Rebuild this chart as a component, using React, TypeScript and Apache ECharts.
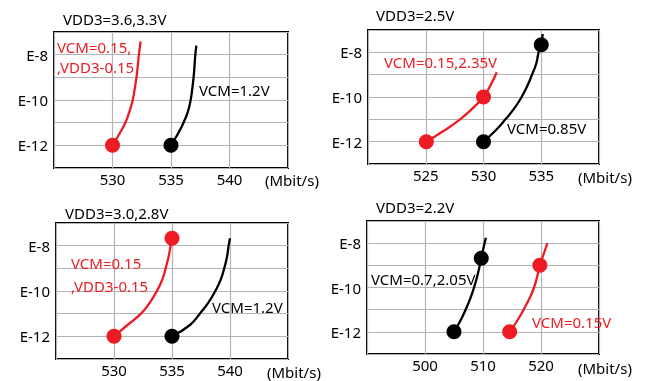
import React, { useEffect, useRef } from "react";
import * as echarts from "echarts";

// ---- data (x: Mbit/s, y: log10 BER exponent) ----
const p1Red: number[][] = [[530, -12], [530.58, -11.5], [531.1, -11], [531.45, -10.5], [531.73, -10], [531.9, -9.5], [532.05, -9], [532.16, -8.5], [532.26, -8], [532.4, -7.42]];
const p1RedMarks: number[][] = [[530, -12]];
const p1Black: number[][] = [[535, -12], [535.58, -11.5], [536.07, -11], [536.45, -10.5], [536.68, -10], [536.82, -9.5], [536.93, -9], [537.01, -8.5], [537.08, -8], [537.17, -7.6]];
const p1BlackMarks: number[][] = [[535, -12]];

const p2Red: number[][] = [[525.05, -12], [526.6, -11.5], [527.97, -11], [529.07, -10.5], [530, -10], [530.58, -9.5], [531.15, -8.89]];
const p2RedMarks: number[][] = [[525.05, -12], [530, -10]];
const p2Black: number[][] = [[530, -12], [531.04, -11.5], [531.9, -11], [532.68, -10.5], [533.3, -10], [533.8, -9.5], [534.2, -9], [534.57, -8.5], [534.77, -8], [535, -7.66], [535.12, -7.18]];
const p2BlackMarks: number[][] = [[530, -12], [535, -7.66]];

const p3Red: number[][] = [[530, -12], [531.16, -11.5], [532.33, -11], [533.1, -10.5], [533.7, -10], [534.16, -9.5], [534.45, -9], [534.7, -8.5], [534.88, -8], [535, -7.67]];
const p3RedMarks: number[][] = [[530, -12], [535, -7.67]];
const p3Black: number[][] = [[535, -12], [536.55, -11.5], [537.4, -11], [538.15, -10.5], [538.73, -10], [539.2, -9.5], [539.5, -9], [539.74, -8.5], [539.88, -8], [540, -7.67]];
const p3BlackMarks: number[][] = [[535, -12]];

const p4Black: number[][] = [[505, -12], [506.1, -11.5], [507, -11], [507.8, -10.5], [508.45, -10], [509.0, -9.5], [509.45, -9], [509.7, -8.68], [510.1, -8.2], [510.5, -7.76]];
const p4BlackMarks: number[][] = [[505, -12], [509.7, -8.68]];
const p4Red: number[][] = [[514.6, -12], [515.9, -11.5], [517, -11], [518, -10.5], [518.8, -10], [519.35, -9.5], [519.8, -9], [520.45, -8.5], [521.1, -8]];
const p4RedMarks: number[][] = [[514.6, -12], [519.8, -9]];

const xRanges: number[][] = [[525, 545, 5], [520, 540, 5], [525, 545, 5], [490, 530, 10]];
const yRange: number[] = [-13, -7, 1];

const titles: string[] = ["VDD3=3.6,3.3V", "VDD3=2.5V", "VDD3=3.0,2.8V", "VDD3=2.2V"];
const unitLabel = "(Mbit/s)";

const RED = "#ed1c24";
const BLACK = "#000000";
const FONT = '"Noto Sans", sans-serif';

export default function App() {
  const ref = useRef<HTMLDivElement>(null);
  useEffect(() => {
    if (!ref.current) return;
    const chart = echarts.init(ref.current, undefined, { renderer: "svg" });
    const grids = [
      { left: 54, top: 32, width: 234, height: 136 },
      { left: 368, top: 30, width: 231, height: 134 },
      { left: 56, top: 223, width: 232, height: 136 },
      { left: 367, top: 221, width: 232, height: 133 },
    ].map((g) => ({ ...g, show: true, borderColor: "#000", borderWidth: 2, backgroundColor: "#fff" }));

    const xAxes = xRanges.map((r, i) => ({
      type: "value",
      gridIndex: i,
      min: r[0],
      max: r[1],
      interval: r[2],
      axisLine: { show: false },
      axisTick: { show: false },
      axisLabel: { showMinLabel: false, showMaxLabel: false, color: "#000", fontSize: 15, fontFamily: FONT, margin: 3 },
      splitLine: { show: true, lineStyle: { color: "#b4b4b4", width: 1.2 } },
    }));
    const yAxes = [0, 1, 2, 3].map((i) => ({
      type: "value",
      gridIndex: i,
      min: yRange[0],
      max: yRange[1],
      interval: yRange[2],
      axisLine: { show: false },
      axisTick: { show: false },
      axisLabel: {
        color: "#000",
        fontSize: 15,
        fontFamily: FONT,
        margin: 6,
        formatter: (v: number) => (Math.abs(v) % 2 === 0 ? "E" + v : ""),
      },
      splitLine: { show: true, lineStyle: { color: "#b4b4b4", width: 1.2 } },
    }));

    const line = (data: number[][], color: string, idx: number) => ({
      type: "line",
      xAxisIndex: idx,
      yAxisIndex: idx,
      data,
      smooth: 0.5,
      showSymbol: false,
      lineStyle: { color, width: 2.3 },
      z: 3,
    });
    const marks = (data: number[][], color: string, idx: number) => ({
      type: "scatter",
      xAxisIndex: idx,
      yAxisIndex: idx,
      data,
      symbol: "circle",
      symbolSize: 15,
      itemStyle: { color, opacity: 1 },
      z: 4,
    });

    const txt = (text: string, x: number, y: number, fill: string) => ({
      type: "text",
      x,
      y,
      z: 10,
      style: { text, fill, font: `15px ${FONT}`, verticalAlign: "middle" },
    });

    chart.setOption({
      animation: false,
      grid: grids,
      xAxis: xAxes,
      yAxis: yAxes,
      series: [
        line(p1Red, RED, 0), marks(p1RedMarks, RED, 0),
        line(p1Black, BLACK, 0), marks(p1BlackMarks, BLACK, 0),
        line(p2Red, RED, 1), marks(p2RedMarks, RED, 1),
        line(p2Black, BLACK, 1), marks(p2BlackMarks, BLACK, 1),
        line(p3Red, RED, 2), marks(p3RedMarks, RED, 2),
        line(p3Black, BLACK, 2), marks(p3BlackMarks, BLACK, 2),
        line(p4Black, BLACK, 3), marks(p4BlackMarks, BLACK, 3),
        line(p4Red, RED, 3), marks(p4RedMarks, RED, 3),
      ],
      graphic: [
        txt(titles[0], 63, 19, BLACK),
        txt(titles[1], 376, 15, BLACK),
        txt(titles[2], 65, 213, BLACK),
        txt(titles[3], 376, 207, BLACK),
        txt(unitLabel, 265, 180, BLACK),
        txt(unitLabel, 578, 177, BLACK),
        txt(unitLabel, 267, 372, BLACK),
        txt(unitLabel, 578, 368, BLACK),
        txt("VCM=0.15,", 57, 47, RED),
        txt(",VDD3-0.15", 57, 67, RED),
        txt("VCM=1.2V", 199, 90, BLACK),
        txt("VCM=0.15,2.35V", 384, 62, RED),
        txt("VCM=0.85V", 507, 128, BLACK),
        txt("VCM=0.15", 71, 263, RED),
        txt(",VDD3-0.15", 71, 286, RED),
        txt("VCM=1.2V", 212, 307, BLACK),
        txt("VCM=0.7,2.05V", 371, 279, BLACK),
        txt("VCM=0.15V", 532, 322, RED),
      ],
    });
    return () => chart.dispose();
  }, []);
  return <div ref={ref} style={{ position: "fixed", left: 0, top: 0, width: 651, height: 381 }} />;
}
